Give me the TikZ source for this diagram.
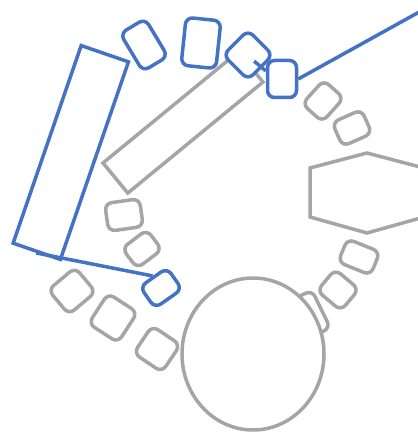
\documentclass[tikz,border=0pt]{standalone}
\usepackage{xcolor}
\usepackage{tikz}
\usetikzlibrary{shapes.geometric, calc}
\definecolor{tileblue}{HTML}{4472C4}
\definecolor{tilegray}{HTML}{A5A5A5}

\begin{document}
\begin{tikzpicture}[x=1pt, y=-1pt,
    tile/.style={rectangle, draw=tilegray, fill=white, line width=3.5pt, rounded corners=7pt, inner sep=0pt},
    pick/.style={tile, draw=tileblue},
    bar/.style={rectangle, draw=tilegray, fill=white, line width=3.5pt, inner sep=0pt},
    link/.style={draw=tileblue, line width=3.5pt}
]
\useasboundingbox (0,0) rectangle (417,433);

% gray tiles
\node[tile, minimum width=35pt, minimum height=28pt, rotate=8] (g1) at (124,215) {};
\node[tile, minimum width=31pt, minimum height=25pt, rotate=37] (g2) at (142,249) {};
\node[tile, minimum width=35pt, minimum height=32pt, rotate=40] (g3) at (72,291) {};
\node[tile, minimum width=35pt, minimum height=36pt, rotate=-33] (g4) at (113,318) {};
\node[tile, minimum width=34pt, minimum height=33pt, rotate=-34] (g5) at (157,349) {};
\node[tile, minimum width=27pt, minimum height=32pt, rotate=-42] (g6) at (323,101) {};
\node[tile, minimum width=32pt, minimum height=26pt, rotate=24] (g7) at (352,128) {};
\node[tile, minimum width=35pt, minimum height=25pt, rotate=-22] (g8) at (359,257) {};
\node[tile, minimum width=31pt, minimum height=28pt, rotate=-40] (g9) at (338,290) {};
\node[tile, minimum width=18pt, minimum height=42pt, rotate=26] (g10) at (313,313) {};

\node[bar, minimum width=175pt, minimum height=39pt, rotate=39.4] (shelf) at (183,122.5) {};
\draw[tilegray, line width=3.5pt, fill=white]
    (310,168) -- (367,153) -- (424,168) -- (424,217) -- (367,233) -- (310,217) -- cycle;
\node[ellipse, draw=tilegray, fill=white, line width=3.5pt, minimum width=142pt, minimum height=152pt] (round) at (253,354) {};

% blue ones
\node[bar, draw=tileblue, minimum width=50pt, minimum height=209pt, rotate=-19] (big) at (70.8,152.5) {};
\node[pick, minimum width=29pt, minimum height=44pt, rotate=31] (b1) at (144,45) {};
\node[pick, minimum width=35pt, minimum height=48pt, rotate=-6] (b2) at (201,43) {};
\node[pick, minimum width=29pt, minimum height=37pt] (b4) at (282,79) {};
\node[pick, minimum width=35pt, minimum height=35pt, rotate=45] (b3) at (248,55) {};
\draw[link] ($(b3.center)!0.45!(b3.south)$) -- ($(b4.north west)!0.3!(b4.south west)$);
\coordinate (edge) at (421,11);
\draw[link] (b4.east) -- (edge);
\node[pick, minimum width=33pt, minimum height=26pt, rotate=35] (b5) at (161,288) {};
\draw[link] (big.south) -- (b5.north);
\end{tikzpicture}
\end{document}
